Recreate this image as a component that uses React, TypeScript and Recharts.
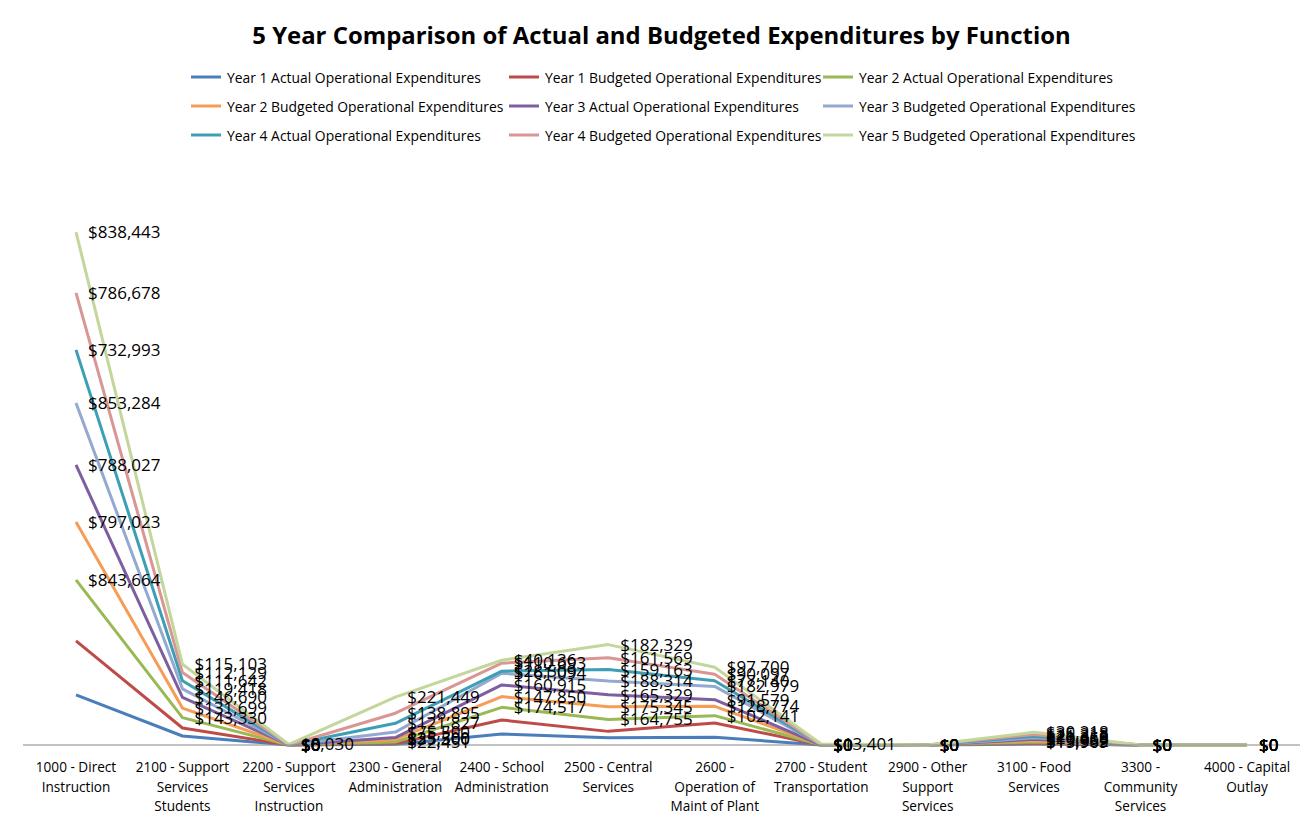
import React from 'react';
import { AreaChart, Area, XAxis, YAxis, LabelList, Legend } from 'recharts';

const categories = [
  '1000 - Direct\nInstruction',
  '2100 - Support\nServices\nStudents',
  '2200 - Support\nServices\nInstruction',
  '2300 - General\nAdministration',
  '2400 - School\nAdministration',
  '2500 - Central\nServices',
  '2600 -\nOperation of\nMaint of Plant',
  '2700 - Student\nTransportation',
  '2900 - Other\nSupport\nServices',
  '3100 - Food\nServices',
  '3300 -\nCommunity\nServices',
  '4000 - Capital\nOutlay',
];

const year1Actual = [690000, 124000, 0, 10000, 152000, 100000, 108000, 0, 0, 14000, 0, 0];
const year1Budgeted = [745000, 110000, 0, 9000, 193000, 88000, 195000, 0, 0, 10000, 0, 0];
const year2Actual = [843664, 143330, 0, 22451, 174517, 164755, 102141, 0, 0, 15969, 0, 0];
const year2Budgeted = [797023, 131699, 0, 35500, 147850, 175345, 128774, 0, 0, 19552, 0, 0];
const year3Actual = [788027, 146690, 0, 25300, 160915, 165329, 91579, 0, 0, 19059, 0, 0];
const year3Budgeted = [853284, 119418, 0, 75500, 161094, 188314, 182979, 0, 0, 20368, 0, 0];
const year4Actual = [732993, 111642, 0, 121827, 28509, 159163, 77140, 0, 0, 21312, 0, 0];
const year4Budgeted = [786678, 112129, 0, 138895, 110693, 161569, 90097, 0, 0, 25218, 0, 0];
const year5Budgeted = [838443, 115103, 8030, 221449, 40136, 182329, 97700, 13401, 0, 30218, 0, 0];

const seriesNames = [
  'Year 1 Actual Operational Expenditures',
  'Year 1 Budgeted Operational Expenditures',
  'Year 2 Actual Operational Expenditures',
  'Year 2 Budgeted Operational Expenditures',
  'Year 3 Actual Operational Expenditures',
  'Year 3 Budgeted Operational Expenditures',
  'Year 4 Actual Operational Expenditures',
  'Year 4 Budgeted Operational Expenditures',
  'Year 5 Budgeted Operational Expenditures',
];
const seriesValues = [
  year1Actual, year1Budgeted, year2Actual, year2Budgeted, year3Actual,
  year3Budgeted, year4Actual, year4Budgeted, year5Budgeted,
];
const seriesKeys = ['y1a', 'y1b', 'y2a', 'y2b', 'y3a', 'y3b', 'y4a', 'y4b', 'y5b'];
const seriesColors = [
  '#4A7EBB', '#BE4B48', '#98B954', '#F59D56', '#7D5FA0',
  '#93A9CF', '#3D9EB5', '#D99694', '#C3D69B',
];
const seriesLabeled = [false, false, true, true, true, true, true, true, true];

const data = categories.map((c, i) => {
  const row: Record<string, any> = { category: c };
  seriesKeys.forEach((k, s) => { row[k] = seriesValues[s][i]; });
  return row;
});

const FONT = '"Open Sans", "Liberation Sans", sans-serif';
const fmt = (v: any) => '$' + Number(v).toLocaleString('en-US');

const CategoryTick = (props: any) => {
  const { x, y, payload } = props;
  const lines = String(payload.value).split('\n');
  return (
    <g transform={`translate(${x},${y})`}>
      <text textAnchor="middle" fontFamily={FONT} fontSize={13.6} fill="#000">
        {lines.map((l, i) => (
          <tspan key={i} x={0} dy={i === 0 ? 27 : 19.5}>{l}</tspan>
        ))}
      </text>
    </g>
  );
};

const legendCols = [190, 508, 822];
const LegendContent = () => (
  <div style={{ position: 'relative', width: 1311, height: 90, fontFamily: FONT, fontSize: 13.9, color: '#000' }}>
    {seriesNames.map((n, i) => {
      const col = i % 3;
      const row = Math.floor(i / 3);
      return (
        <div key={n} style={{ position: 'absolute', left: legendCols[col], top: row * 29, height: 20, display: 'flex', alignItems: 'center', whiteSpace: 'nowrap' }}>
          <svg width={32} height={20} style={{ display: 'block' }}>
            <line x1={1} y1={10} x2={31} y2={10} stroke={seriesColors[i]} strokeWidth={3} />
          </svg>
          <span style={{ marginLeft: 5 }}>{n}</span>
        </div>
      );
    })}
  </div>
);

export default function App() {
  return (
    <div style={{ position: 'absolute', left: 0, top: 0, width: 1311, height: 820, background: '#fff' }}>
      <div style={{ position: 'absolute', left: 6, top: 18, width: 1311, textAlign: 'center', fontFamily: FONT, fontWeight: 700, fontSize: 23.9, color: '#000' }}>
        5 Year Comparison of Actual and Budgeted Expenditures by Function
      </div>
      <AreaChart width={1311} height={820} data={data} margin={{ top: 75, right: 11, bottom: 0, left: 23 }}>
        <XAxis dataKey="category" height={75} tickLine={false} tickSize={0} tickMargin={0} interval={0}
          axisLine={{ stroke: '#868686', strokeWidth: 1 }} padding={{ left: 53, right: 53 }} tick={<CategoryTick />} />
        <YAxis hide domain={[0, 8000000]} type="number" />
        <Legend layout="vertical" align="center" verticalAlign="top" content={<LegendContent />}
          wrapperStyle={{ position: 'absolute', left: 0, top: 67, width: 1311, height: 90 }} />
        {seriesKeys.map((k, i) => (
          <Area key={k} type="linear" dataKey={k} name={seriesNames[i]} stackId="s" stroke={seriesColors[i]}
            strokeWidth={3} fill="none" fillOpacity={0} dot={false} activeDot={false} isAnimationActive={false}
            strokeLinejoin="round">
            {seriesLabeled[i] ? (
              <LabelList dataKey={k} position="right" offset={12} formatter={fmt}
                fontFamily={FONT} fontSize={17} fill="#000" />
            ) : null}
          </Area>
        ))}
      </AreaChart>
    </div>
  );
}
